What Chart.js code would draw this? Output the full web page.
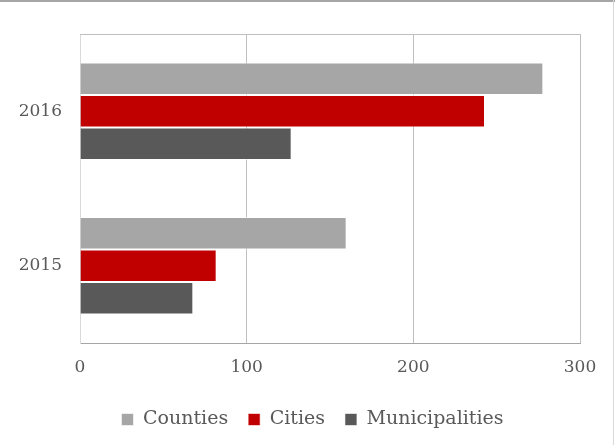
<!DOCTYPE html>
<html>
<head>
<meta charset="utf-8">
<script src="https://cdn.jsdelivr.net/npm/chart.js@4.4.1/dist/chart.umd.min.js"></script>
<style>
	html, body { margin: 0; padding: 0; background: #fff; }
	#wrap { width: 615px; height: 445px; position: relative; }
</style>
</head>
<body>
<div id="wrap"><canvas id="chart" width="615" height="445"></canvas></div>
<script>
const years = ["2016", "2015"];
const counties = [278, 160];
const cities = [243, 82];
const municipalities = [127, 68];
const xTicks = [0, 100, 200, 300];

const textColor = "#595959";
const fontFamily = "'DejaVu Serif', 'Liberation Serif', serif";

// frame round the picture and top edge of the plot area
const framePlugin = {
	id: "frame",
	afterDraw(chart) {
		const ctx = chart.ctx;
		const a = chart.chartArea;
		ctx.save();
		ctx.lineWidth = 1;
		ctx.strokeStyle = "#BFBFBF";
		ctx.beginPath();
		ctx.moveTo(a.left, a.top + 0.5);
		ctx.lineTo(a.right, a.top + 0.5);
		ctx.stroke();
		ctx.strokeStyle = "#A6A6A6";
		ctx.lineWidth = 2;
		ctx.beginPath();
		ctx.moveTo(0, 1);
		ctx.lineTo(chart.width, 1);
		ctx.stroke();
		ctx.strokeStyle = "#D9D9D9";
		ctx.lineWidth = 1;
		ctx.beginPath();
		ctx.moveTo(chart.width - 1.5, 0);
		ctx.lineTo(chart.width - 1.5, chart.height);
		ctx.stroke();
		ctx.restore();
	},
};

const series = [
	{ label: "Counties", data: counties, color: "#A6A6A6" },
	{ label: "Cities", data: cities, color: "#C00000" },
	{ label: "Municipalities", data: municipalities, color: "#595959" },
];

new Chart(document.getElementById("chart"), {
	type: "bar",
	data: {
		labels: years,
		datasets: series.map((s) => ({
			label: s.label,
			data: s.data,
			backgroundColor: s.color,
			borderColor: "rgba(255,255,255,0.6)",
			borderWidth: 1,
			categoryPercentage: 0.63,
			barPercentage: 1,
		})),
	},
	options: {
		indexAxis: "y",
		responsive: false,
		animation: false,
		devicePixelRatio: 1,
		layout: { padding: { top: 34, right: 0, left: 10, bottom: 6 } },
		scales: {
			x: {
				min: 0,
				max: 300,
				afterBuildTicks(scale) {
					scale.ticks = xTicks.map((v) => ({ value: v }));
				},
				afterFit(scale) {
					scale.height = 47;
				},
				grid: { color: (c) => (c.tick && c.tick.value === 0 ? "#D9D9D9" : "#BFBFBF"), drawTicks: false },
				border: { color: "#A6A6A6", width: 1 },
				ticks: { color: textColor, padding: 14, font: { family: fontFamily, size: 17 } },
			},
			y: {
				afterFit(scale) {
					scale.width = 70;
				},
				grid: { display: false, drawTicks: false },
				border: { color: "#D9D9D9", width: 1 },
				ticks: { color: textColor, padding: 18, font: { family: fontFamily, size: 17 } },
			},
			// empty strip on the right so the legend stays centred on the page
			yRight: {
				axis: "y",
				type: "category",
				position: "right",
				afterFit(scale) {
					scale.width = 35;
				},
				grid: { display: false, drawTicks: false },
				border: { display: false },
				ticks: { display: false },
			},
		},
		plugins: {
			legend: {
				position: "bottom",
				labels: {
					color: textColor,
					boxWidth: 12,
					boxHeight: 12,
					padding: 20,
					font: { family: fontFamily, size: 19 },
				},
			},
			tooltip: { enabled: false },
		},
	},
	plugins: [framePlugin],
});
</script>
</body>
</html>
